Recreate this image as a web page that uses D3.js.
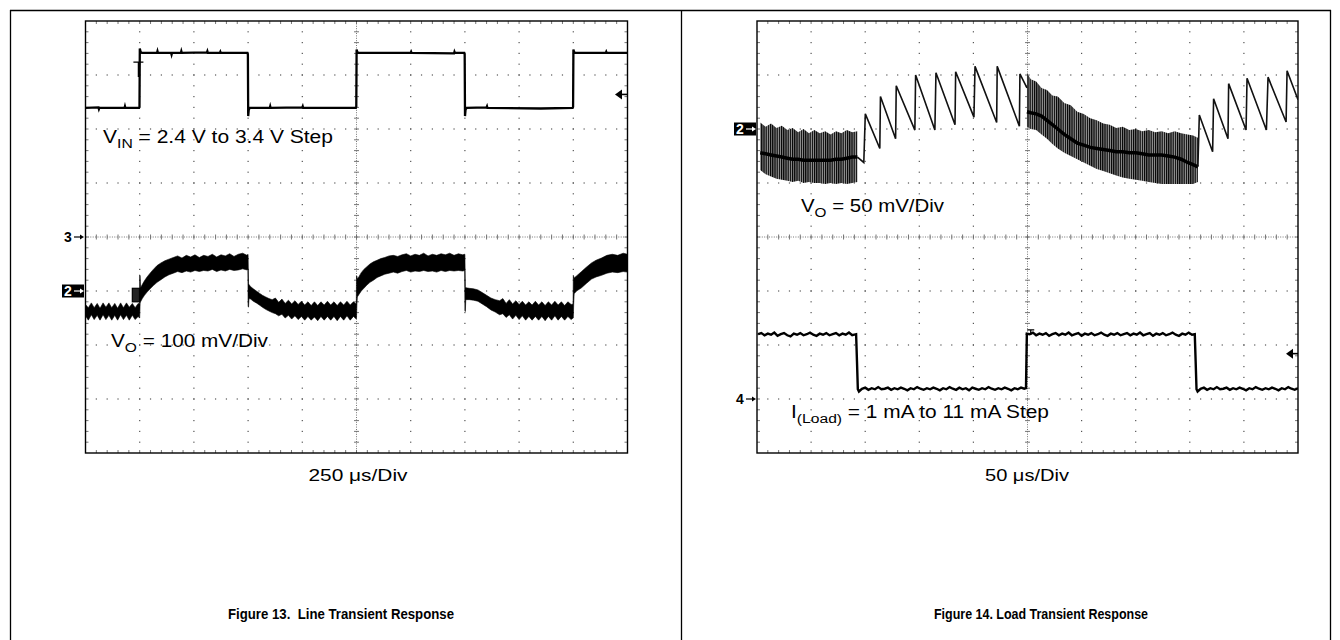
<!DOCTYPE html>
<html>
<head>
<meta charset="utf-8">
<script src="https://cdn.jsdelivr.net/npm/d3@7"></script>
<style>
  body { margin: 0; background: #fff; }
  svg { display: block; }
  text { font-family: "Liberation Sans", Arial, sans-serif; fill: #000; }
</style>
</head>
<body>
<svg id="chart" width="1340" height="640"></svg>
<script>
// ---------- Figure 13 : line transient (t in us) ----------
// VIN, volts (1 V/div, ground at centre line)
const vinPts = [[0,2.39],[60,2.40],[62,2.37],[64,2.39],[180,2.39],[182,2.42],[184,2.39],[247,2.39],[249,2.41],[250.5,3.49],[254,3.43],[260,3.41],[330,3.41],[332,3.44],[334,3.41],[395,3.41],[397,3.38],[399,3.41],[440,3.41],[442,3.44],[444,3.41],[560,3.42],[562,3.44],[564,3.41],[620,3.41],[622,3.43],[624,3.41],[747,3.41],[749,3.38],[750.5,2.24],[753,2.36],[758,2.39],[850,2.39],[852,2.42],[854,2.39],[1000,2.40],[1002,2.42],[1004,2.39],[1247,2.39],[1249,2.41],[1250.5,3.47],[1254,3.42],[1260,3.41],[1500,3.41],[1502,3.43],[1504,3.41],[1700,3.40],[1702,3.43],[1704,3.41],[1747,3.41],[1749,3.38],[1750.5,2.24],[1753,2.36],[1758,2.39],[1850,2.40],[1852,2.42],[1854,2.39],[2100,2.38],[2247,2.39],[2249,2.41],[2250.5,3.47],[2254,3.42],[2260,3.41],[2400,3.41],[2402,3.43],[2404,3.41],[2500,3.41]];

// VO band, [t, top mV, bottom mV] relative to the ch2 marker (100 mV/div)
const voBand = [
 [0,-25,-46],[13,-31,-54],[27,-22,-44],[40,-31,-53],[54,-23,-45],[67,-32,-54],[81,-22,-44],[94,-30,-53],[108,-22,-45],[121,-31,-54],[135,-23,-45],[148,-32,-54],[162,-22,-44],[175,-31,-53],[189,-22,-45],[202,-30,-54],[216,-23,-45],[229,-31,-53],[243,-23,-47],[249,-24,-50],
 [250,30,-50],[252,28,-22],[254,6,-20],[262,12,-14],[272,19,-8],[284,26,-2],[298,33,4],[313,40,10],[330,47,16],[348,52,21],[366,56,26],[385,59,30],[405,62,33],[425,65,36],[445,61,34],[465,66,37],[485,63,35],[505,67,38],[525,62,36],[545,66,38],[565,64,37],[585,68,40],[605,63,36],[625,67,39],[645,65,37],[665,69,40],[685,64,38],[705,68,39],[725,70,41],[745,66,39],[749,68,40],
 [750,66,-28],[752,14,-30],[754,12,-14],[762,8,-15],[774,4,-19],[788,0,-22],[802,-4,-26],[816,-8,-30],[831,-11,-34],[846,-14,-37],[861,-16,-40],[876,-13,-42],[891,-21,-46],[906,-15,-43],[921,-23,-50],[936,-17,-45],[951,-24,-52],[966,-18,-46],[981,-25,-53],[996,-19,-47],[1011,-26,-54],[1026,-20,-47],[1041,-27,-54],[1056,-20,-48],[1071,-27,-55],[1086,-20,-47],[1101,-26,-54],[1116,-19,-47],[1131,-26,-54],[1146,-20,-47],[1161,-27,-55],[1176,-20,-47],[1191,-26,-54],[1206,-19,-46],[1221,-26,-54],[1236,-20,-47],[1249,-24,-52],
 [1250,28,-50],[1252,27,-24],[1254,22,-11],[1262,27,-6],[1272,34,0],[1284,40,5],[1298,45,11],[1312,50,16],[1328,54,20],[1345,57,25],[1362,60,28],[1380,62,31],[1400,65,33],[1420,66,35],[1440,64,33],[1460,67,36],[1480,69,38],[1500,65,35],[1520,68,37],[1540,66,36],[1560,70,38],[1580,65,36],[1600,68,37],[1620,66,35],[1640,69,38],[1660,67,36],[1680,70,38],[1700,66,37],[1720,69,38],[1740,67,37],[1749,68,38],
 [1750,68,-36],[1752,8,-38],[1754,6,-16],[1770,5,-16],[1790,4,-17],[1810,2,-19],[1830,-3,-24],[1850,-8,-29],[1870,-13,-35],[1890,-16,-39],[1910,-18,-44],[1925,-14,-42],[1940,-23,-49],[1955,-16,-44],[1970,-24,-52],[1985,-18,-45],[2000,-25,-53],[2015,-19,-46],[2030,-26,-54],[2045,-20,-47],[2060,-26,-54],[2075,-19,-47],[2090,-26,-54],[2105,-20,-47],[2120,-27,-55],[2135,-20,-47],[2150,-26,-54],[2165,-19,-46],[2180,-26,-54],[2195,-20,-47],[2210,-27,-54],[2225,-20,-47],[2240,-25,-53],[2249,-24,-50],
 [2250,29,-50],[2252,27,-22],[2254,24,-5],[2265,28,0],[2288,36,6],[2310,44,14],[2334,52,22],[2355,57,26],[2380,61,29],[2405,66,33],[2430,68,35],[2455,66,34],[2480,70,36],[2500,68,35]
];

// ---------- Figure 14 : load transient (t in us) ----------
// VO dense ripple bands, [t, top, bottom, mean] mV relative to ch2 marker (50 mV/div)
const rvoBand1 = [[3,6,-38,-22],[8,2,-42,-23],[13,5,-44,-24],[18,1,-46,-25],[23,3,-47,-26],[28,-1,-48,-27],[33,1,-49,-28],[38,-3,-48,-28],[43,0,-50,-29],[48,-4,-49,-29],[53,-1,-50,-29],[58,-4,-50,-29],[63,-2,-51,-29],[68,-5,-50,-29],[73,-2,-51,-28],[78,-4,-50,-28],[83,-1,-51,-27],[88,-3,-50,-26],[92.8,-2,-49,-26]];
const rvoBand2 = [[249.5,52,2,16],[253,46,0,15],[258,44,-1,14],[263,38,-5,12],[268,36,-9,8],[273,31,-14,4],[278,30,-18,0],[284,24,-22,-5],[290,22,-25,-9],[296,16,-28,-13],[302,14,-31,-15],[308,10,-34,-17],[314,8,-37,-18],[320,5,-39,-19],[326,4,-41,-20],[332,1,-43,-21],[338,2,-45,-21],[344,-1,-46,-22],[350,0,-47,-22],[356,-2,-48,-23],[362,-1,-49,-24],[368,-3,-50,-24],[374,-2,-51,-24],[380,-4,-51,-25],[386,-2,-51,-26],[392,-4,-51,-28],[398,-5,-51,-31],[403,-6,-51,-33],[407.5,-8,-49,-35]];
// VO sawtooth (light load), [t, mV]
const rvoSaw1 = [[92.8,-26],[98.7,-31],[100.1,14],[113.5,-18],[114.1,30],[128.1,-9],[128.7,40],[145.9,-1],[146.6,50],[164.4,-1],[165.4,52],[183,4],[183.6,53],[200.5,11],[201.5,58],[221.5,6],[222,58],[242.5,2.5],[243,51],[249.5,38]];
const rvoSaw2 = [[407.5,-35],[408.8,13],[421.1,-21],[422,28],[435.3,-9],[435.9,42],[452,-1],[452.9,47],[470.8,-1],[472.3,48],[489,6.5],[489.9,54],[500,27]];
// I(Load), mA (10 mA/div, ch4 marker)
const loadPts = [
 [1,12.0],[4,12.2],[7,11.8],[10,12.1],[13,11.9],[16,12.3],[19,11.7],[22,12.0],[25,12.2],[28,11.8],[31,11.6],[34,12.1],[37,11.9],[40,12.2],[43,11.8],[46,12.0],[49,12.3],[52,11.9],[55,11.7],[58,12.1],[61,11.9],[64,12.2],[67,11.8],[70,12.0],[73,12.2],[76,11.8],[79,12.1],[82,11.9],[85,12.3],[88,11.8],[91.6,12.0],
 [92.4,7.0],[93.2,1.8],[94.2,1.4],
 [97,1.9],[100,2.1],[103,1.7],[106,2.0],[109,1.8],[112,2.2],[115,1.8],[118,1.9],[121,2.1],[124,1.7],[127,2.0],[130,1.8],[133,2.1],[136,1.9],[139,1.6],[142,2.0],[145,1.8],[148,2.2],[151,1.9],[154,1.7],[157,2.0],[160,1.8],[163,2.1],[166,1.9],[169,1.6],[172,2.0],[175,1.8],[178,2.2],[181,1.9],[184,1.7],[187,2.1],[190,1.8],[193,2.0],[196,1.6],[199,2.1],[202,1.9],[205,1.7],[208,2.0],[211,1.8],[214,2.2],[217,1.9],[220,1.7],[223,2.0],[226,1.8],[229,2.1],[232,1.9],[235,1.6],[238,2.0],[241,1.8],[244,2.1],[247,1.9],[248.6,2.0],
 [249.4,12.1],
 [252,12.0],[255,12.3],[258,11.8],[261,12.1],[264,11.9],[267,12.2],[270,11.7],[273,12.0],[276,12.2],[279,11.8],[282,12.1],[285,11.9],[288,12.3],[291,11.8],[294,12.0],[297,12.2],[300,11.7],[303,12.1],[306,11.9],[309,12.2],[312,11.8],[315,12.0],[318,12.3],[321,11.9],[324,11.7],[327,12.1],[330,11.9],[333,12.2],[336,11.8],[339,12.0],[342,12.2],[345,11.8],[348,12.1],[351,11.9],[354,12.3],[357,11.8],[360,12.0],[363,12.2],[366,11.7],[369,12.1],[372,11.9],[375,12.2],[378,11.8],[381,12.0],[384,12.3],[387,11.9],[390,11.7],[393,12.1],[396,11.9],[399,12.3],[402,11.9],[404.6,12.0],
 [405.4,7.0],[406.2,1.8],[407.2,1.4],
 [410,1.9],[413,2.1],[416,1.7],[419,2.0],[422,1.8],[425,2.2],[428,1.8],[431,1.9],[434,2.1],[437,1.7],[440,2.0],[443,1.8],[446,2.1],[449,1.9],[452,1.6],[455,2.0],[458,1.8],[461,2.2],[464,1.9],[467,1.7],[470,2.0],[473,1.8],[476,2.1],[479,1.9],[482,1.6],[485,2.0],[488,1.8],[491,2.2],[494,1.9],[497,1.7],[500,2.0]
];

const svg = d3.select("#chart");

// page frame
const frame = svg.append("g").attr("stroke", "#000").attr("stroke-width", 1.3);
frame.append("line").attr("x1", 10).attr("x2", 1331).attr("y1", 10.5).attr("y2", 10.5);
frame.append("line").attr("x1", 10.5).attr("x2", 10.5).attr("y1", 10).attr("y2", 640);
frame.append("line").attr("x1", 681.5).attr("x2", 681.5).attr("y1", 10).attr("y2", 640);
frame.append("line").attr("x1", 1330.5).attr("x2", 1330.5).attr("y1", 10).attr("y2", 640);

const defs = svg.append("defs");
const pat = defs.append("pattern").attr("id", "ripple")
  .attr("patternUnits", "userSpaceOnUse").attr("width", 2.2).attr("height", 10);
pat.append("rect").attr("x", 0).attr("y", 0).attr("width", 2.2).attr("height", 10).attr("fill", "#9a9a9a");
pat.append("rect").attr("x", 0).attr("y", 0).attr("width", 1.2).attr("height", 10).attr("fill", "#000");

// oscilloscope graticule: 10 x 8 divisions
function scope(id, left, right, top, bottom) {
  const g = svg.append("g");
  const xd = d3.scaleLinear().domain([0, 10]).range([left, right]);
  const yd = d3.scaleLinear().domain([-4, 4]).range([bottom, top]);
  const minX = d3.range(1, 50).map(i => i / 5);
  const minY = d3.range(-19, 20).map(i => i / 5);

  defs.append("clipPath").attr("id", id)
    .append("rect").attr("x", left).attr("y", top).attr("width", right - left).attr("height", bottom - top);

  // dotted grid lines
  const dots = g.append("g").attr("fill", "#555");
  [1, 2, 3, 4, 6, 7, 8, 9].forEach(i => {
    minY.forEach(v => dots.append("rect").attr("x", xd(i) - 0.6).attr("y", yd(v) - 0.6).attr("width", 1.2).attr("height", 1.2));
  });
  [-3, -2, -1, 1, 2, 3].forEach(k => {
    minX.forEach(v => dots.append("rect").attr("x", xd(v) - 0.6).attr("y", yd(k) - 0.6).attr("width", 1.2).attr("height", 1.2));
  });

  // centre axes with minor ticks
  const ax = g.append("g").attr("stroke", "#666").attr("stroke-width", 0.9);
  ax.append("line").attr("x1", left).attr("x2", right).attr("y1", yd(0)).attr("y2", yd(0)).attr("stroke-dasharray", "1 1.4");
  ax.append("line").attr("x1", xd(5)).attr("x2", xd(5)).attr("y1", top).attr("y2", bottom).attr("stroke-dasharray", "1 1.4");
  minX.forEach(v => ax.append("line").attr("x1", xd(v)).attr("x2", xd(v)).attr("y1", yd(0) - 2.5).attr("y2", yd(0) + 2.5));
  minY.forEach(v => ax.append("line").attr("x1", xd(5) - 2.5).attr("x2", xd(5) + 2.5).attr("y1", yd(v)).attr("y2", yd(v)));

  // edge ticks
  const et = g.append("g").attr("stroke", "#666").attr("stroke-width", 0.9);
  minX.forEach(v => {
    et.append("line").attr("x1", xd(v)).attr("x2", xd(v)).attr("y1", top).attr("y2", top + 3);
    et.append("line").attr("x1", xd(v)).attr("x2", xd(v)).attr("y1", bottom).attr("y2", bottom - 3);
  });
  minY.forEach(v => {
    et.append("line").attr("x1", left).attr("x2", left + 3).attr("y1", yd(v)).attr("y2", yd(v));
    et.append("line").attr("x1", right).attr("x2", right - 3).attr("y1", yd(v)).attr("y2", yd(v));
  });

  g.append("rect").attr("x", left).attr("y", top).attr("width", right - left).attr("height", bottom - top)
    .attr("fill", "none").attr("stroke", "#000").attr("stroke-width", 1.4);

  return { g, xd, yd, clip: "url(#" + id + ")" };
}

function chMarker(x, y, label, inverse) {
  const m = svg.append("g");
  if (inverse) {
    m.append("rect").attr("x", x - 23).attr("y", y - 6.5).attr("width", 22).attr("height", 13).attr("fill", "#000");
  }
  const col = inverse ? "#fff" : "#000";
  m.append("text").attr("x", x - 21).attr("y", y + 5).attr("font-size", 14).attr("font-weight", "bold")
    .style("fill", col).text(label);
  m.append("line").attr("x1", x - 11).attr("x2", x - 3).attr("y1", y).attr("y2", y).attr("stroke", col).attr("stroke-width", 1.2);
  m.append("path").attr("d", `M${x - 1},${y} l-4,-2.5 v5 z`).attr("fill", col);
}

function trigArrow(x, y) {
  svg.append("path").attr("d", `M${x - 12},${y} l7,-5 v10 z`).attr("fill", "#000");
  svg.append("line").attr("x1", x - 6).attr("x2", x).attr("y1", y).attr("y2", y).attr("stroke", "#000").attr("stroke-width", 1.6);
}

function tMark(x, y, w, h) {
  svg.append("path").attr("d", `M${x - w / 2},${y} h${w} M${x},${y} v${h}`)
    .attr("stroke", "#000").attr("stroke-width", 1.3).attr("fill", "none");
}

function label(x, y, main, sub, rest, len, size) {
  const t = svg.append("text").attr("x", x).attr("y", y).attr("font-size", size)
    .attr("textLength", len).attr("lengthAdjust", "spacingAndGlyphs");
  t.append("tspan").text(main);
  if (sub) t.append("tspan").attr("font-size", size * 0.75).attr("dy", 5).text(sub);
  t.append("tspan").attr("dy", sub ? -5 : 0).text(rest);
  return t;
}

// ================= left scope =================
const L = scope("clipL", 85.5, 627.5, 21, 453);
const tL = d3.scaleLinear().domain([0, 2500]).range([85.5, 627.5]);
const vinY = d3.scaleLinear().domain([-4, 4]).range([453, 21]);
const voY = d3.scaleLinear().domain([-300, 500]).range([453, 21]);

const trL = svg.append("g").attr("clip-path", L.clip);
trL.append("path").datum(voBand)
  .attr("d", d3.area().x(d => tL(d[0])).y0(d => voY(d[2])).y1(d => voY(d[1])))
  .attr("fill", "#000").attr("stroke", "#000").attr("stroke-width", 0.6);
trL.append("path").datum(vinPts)
  .attr("d", d3.line().x(d => tL(d[0])).y(d => vinY(d[1])))
  .attr("fill", "none").attr("stroke", "#000").attr("stroke-width", 2.3);

// ch2 trigger box on the VO edge
svg.append("rect").attr("x", tL(216)).attr("y", voY(5)).attr("width", tL(249) - tL(216)).attr("height", voY(-20) - voY(5))
  .attr("fill", "#222").attr("stroke", "#000").attr("stroke-width", 1.2);
tMark(tL(244), vinY(3.24), 10, 15);
trigArrow(627, vinY(2.64));
chMarker(85, L.yd(0), "3", false);
chMarker(85, L.yd(-1), "2", true);

label(103, 143, "V", "IN", " = 2.4 V to 3.4 V Step", 230, 17.5);
label(111, 346.5, "V", "O", " = 100 mV/Div", 157, 17.5);
svg.append("text").attr("x", 358).attr("y", 481).attr("text-anchor", "middle").attr("font-size", 17)
  .attr("textLength", 99).attr("lengthAdjust", "spacingAndGlyphs").text("250 \u03bcs/Div");

// ================= right scope =================
const R = scope("clipR", 757, 1298, 21, 453);
const tR = d3.scaleLinear().domain([0, 500]).range([757, 1298]);
const rvoY = d3.scaleLinear().domain([-300, 100]).range([453, 21]);
const iY = d3.scaleLinear().domain([-10, 70]).range([453, 21]);

const trR = svg.append("g").attr("clip-path", R.clip);
[rvoBand1, rvoBand2].forEach(b => {
  trR.append("path").datum(b)
    .attr("d", d3.area().x(d => tR(d[0])).y0(d => rvoY(d[2])).y1(d => rvoY(d[1])))
    .attr("fill", "url(#ripple)");
  trR.append("path").datum(b)
    .attr("d", d3.line().x(d => tR(d[0])).y(d => rvoY(d[3])))
    .attr("fill", "none").attr("stroke", "#000").attr("stroke-width", 3.5);
});
[rvoSaw1, rvoSaw2].forEach(s => {
  trR.append("path").datum(s)
    .attr("d", d3.line().x(d => tR(d[0])).y(d => rvoY(d[1])))
    .attr("fill", "none").attr("stroke", "#111").attr("stroke-width", 1.6);
});
trR.append("path").datum(loadPts)
  .attr("d", d3.line().x(d => tR(d[0])).y(d => iY(d[1])))
  .attr("fill", "none").attr("stroke", "#000").attr("stroke-width", 2.4);

tMark(tR(253), iY(12.8), 7, 5);
trigArrow(1298, iY(8.4));
chMarker(757, R.yd(2), "2", true);
chMarker(757, R.yd(-3), "4", false);

label(801, 211.5, "V", "O", " = 50 mV/Div", 143, 17.5);
label(791, 418, "I", "(Load)", " = 1 mA to 11 mA Step", 258, 17.5);
svg.append("text").attr("x", 1027).attr("y", 481).attr("text-anchor", "middle").attr("font-size", 17)
  .attr("textLength", 84).attr("lengthAdjust", "spacingAndGlyphs").text("50 \u03bcs/Div");

// ================= captions =================
svg.append("text").attr("x", 341).attr("y", 619).attr("text-anchor", "middle").attr("font-size", 15)
  .attr("font-weight", "bold").attr("textLength", 226).attr("lengthAdjust", "spacingAndGlyphs")
  .style("white-space", "pre").text("Figure 13.  Line Transient Response");
svg.append("text").attr("x", 1041).attr("y", 619).attr("text-anchor", "middle").attr("font-size", 15)
  .attr("font-weight", "bold").attr("textLength", 214).attr("lengthAdjust", "spacingAndGlyphs")
  .text("Figure 14. Load Transient Response");
</script>
</body>
</html>
